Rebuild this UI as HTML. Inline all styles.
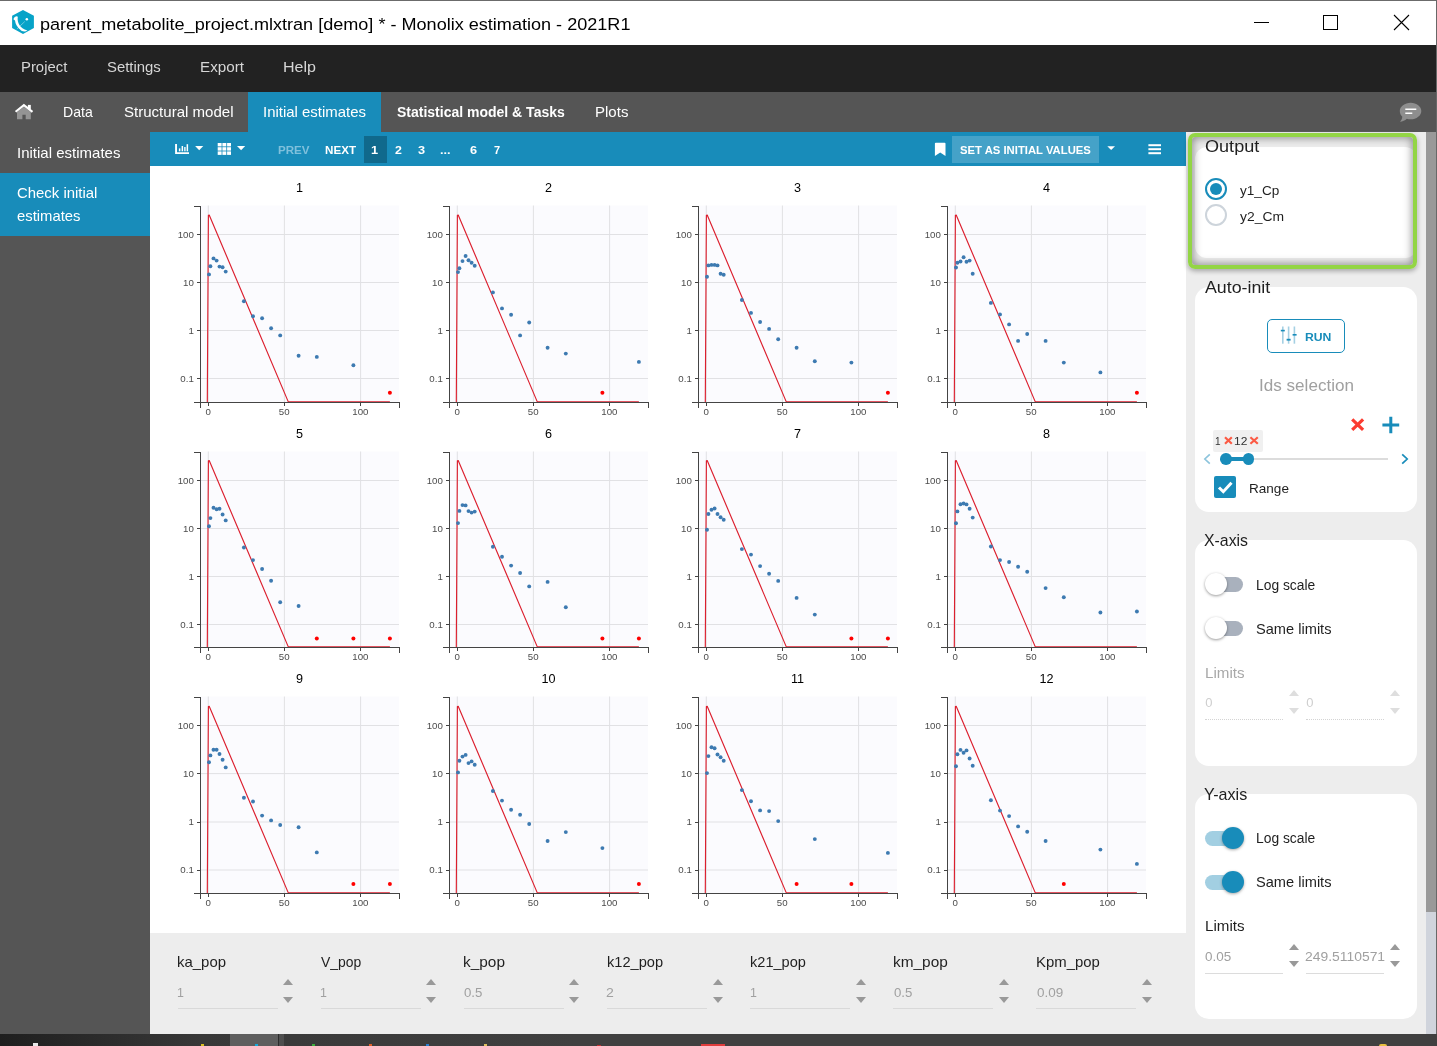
<!DOCTYPE html>
<html lang="en"><head><meta charset="utf-8"><title>Monolix estimation</title>
<style>
html,body{margin:0;padding:0}
body{width:1437px;height:1046px;overflow:hidden;background:#fff;position:relative;font-family:"Liberation Sans",sans-serif}
.a{position:absolute}
.t{position:absolute;white-space:nowrap;line-height:1;transform-origin:0 0}
.card{position:absolute;background:#fff;border-radius:14px}
.tri-u{position:absolute;width:0;height:0;border-left:5.5px solid transparent;border-right:5.5px solid transparent;border-bottom:6px solid #999}
.tri-d{position:absolute;width:0;height:0;border-left:5.5px solid transparent;border-right:5.5px solid transparent;border-top:6px solid #999}
.ul{position:absolute;height:1px;background:#dcdcdc}
</style></head><body>
<!-- window chrome -->
<div class="a" style="left:0;top:0;width:1437px;height:45px;background:#fff"></div>
<div class="a" style="left:0;top:0;width:1437px;height:1px;background:#6b6b6b"></div>
<div class="a" style="left:0;top:45px;width:1437px;height:47px;background:#222"></div>
<div class="a" style="left:0;top:92px;width:1437px;height:40px;background:#555"></div>
<div class="a" style="left:248px;top:92px;width:133px;height:40px;background:#188cba"></div>
<!-- sidebar -->
<div class="a" style="left:0;top:132px;width:150px;height:902px;background:#555"></div>
<div class="a" style="left:0;top:173px;width:150px;height:63px;background:#188cba"></div>
<!-- toolbar -->
<div class="a" style="left:150px;top:132px;width:1036px;height:34px;background:#188cba"></div>
<div class="a" style="left:364px;top:136px;width:23px;height:27px;background:#10698c"></div>
<div class="a" style="left:952px;top:136px;width:147px;height:27px;background:#45a2c8"></div>
<!-- bottom parameter panel -->
<div class="a" style="left:150px;top:933px;width:1036px;height:101px;background:#ededed"></div>
<!-- right panel -->
<div class="a" style="left:1186px;top:132px;width:240px;height:902px;background:#ededed"></div>
<div class="a" style="left:1426px;top:132px;width:11px;height:780px;background:#999"></div>
<div class="a" style="left:1426px;top:912px;width:11px;height:122px;background:#d0d4dc"></div>
<!-- taskbar -->
<div class="a" style="left:0;top:1034px;width:1437px;height:12px;background:linear-gradient(90deg,#1e1e1e 0,#242424 3%,#383838 14%,#404040 40%,#404040 100%)"></div>
<div class="a" style="left:230px;top:1034px;width:48px;height:12px;background:#5e5e5e"></div>
<div class="a" style="left:278px;top:1034px;width:1px;height:12px;background:#2c2c2c"></div>
<div class="a" style="left:279px;top:1034px;width:5px;height:12px;background:#4e4e4e"></div>
<div class="a" style="left:33px;top:1043px;width:5px;height:3px;background:#e8e8e8"></div>
<div class="a" style="left:201px;top:1044px;width:3px;height:2px;background:#d8c020"></div>
<div class="a" style="left:255px;top:1044px;width:3px;height:2px;background:#18a8d8"></div>
<div class="a" style="left:312px;top:1044px;width:3px;height:2px;background:#3cae3c"></div>
<div class="a" style="left:369px;top:1044px;width:3px;height:2px;background:#e0602a"></div>
<div class="a" style="left:426px;top:1044px;width:3px;height:2px;background:#2a7fd0"></div>
<div class="a" style="left:484px;top:1044px;width:3px;height:2px;background:#e0c060"></div>
<div class="a" style="left:597px;top:1045px;width:4px;height:1px;background:#c03030"></div>
<div class="a" style="left:701px;top:1044px;width:24px;height:2px;background:#e03c3c"></div>
<div class="a" style="left:1379px;top:1044px;width:8px;height:2px;background:#e8c040;border-radius:3px 3px 0 0"></div>
<!-- Output (highlighted) -->
<div class="card" style="left:1195px;top:146.5px;width:222px;height:111.5px;border-radius:12px"></div>
<div class="card" style="left:1195px;top:287px;width:222px;height:225px"></div>
<div class="card" style="left:1195px;top:540px;width:222px;height:226px"></div>
<div class="card" style="left:1195px;top:794px;width:222px;height:225px"></div>
<!-- RUN button -->
<div class="a" style="left:1267px;top:319px;width:76px;height:32px;border:1px solid #188cba;border-radius:5px"></div>
<!-- tag -->
<div class="a" style="left:1213px;top:430px;width:50px;height:22px;background:#f0f0f0;border-radius:2px"></div>
<!-- slider -->
<div class="a" style="left:1226px;top:458px;width:162px;height:2px;background:#dcdcdc"></div>
<div class="a" style="left:1226px;top:457.2px;width:23px;height:3.6px;background:#188cba"></div>
<div class="a" style="left:1220.1px;top:453.4px;width:11.6px;height:11.6px;border-radius:50%;background:#188cba"></div>
<div class="a" style="left:1242.7px;top:453.4px;width:11.6px;height:11.6px;border-radius:50%;background:#188cba"></div>
<!-- checkbox -->
<div class="a" style="left:1214px;top:476px;width:22px;height:22px;background:#188cba;border-radius:2px"></div>
<!-- toggles off -->
<div class="a" style="left:1207px;top:577px;width:36px;height:15px;border-radius:8px;background:#a9b1bd"></div>
<div class="a" style="left:1205px;top:573px;width:22px;height:22px;border-radius:50%;background:#fff;box-shadow:0 1px 3px rgba(0,0,0,.4)"></div>
<div class="a" style="left:1207px;top:621px;width:36px;height:15px;border-radius:8px;background:#a9b1bd"></div>
<div class="a" style="left:1205px;top:617px;width:22px;height:22px;border-radius:50%;background:#fff;box-shadow:0 1px 3px rgba(0,0,0,.4)"></div>
<!-- toggles on -->
<div class="a" style="left:1205px;top:831px;width:36px;height:15px;border-radius:8px;background:#a2cfe2"></div>
<div class="a" style="left:1221.5px;top:827px;width:22px;height:22px;border-radius:50%;background:#188cba;box-shadow:0 1px 3px rgba(0,0,0,.35)"></div>
<div class="a" style="left:1205px;top:875px;width:36px;height:15px;border-radius:8px;background:#a2cfe2"></div>
<div class="a" style="left:1221.5px;top:871px;width:22px;height:22px;border-radius:50%;background:#188cba;box-shadow:0 1px 3px rgba(0,0,0,.35)"></div>
<!-- radios -->
<div class="a" style="left:1205px;top:178px;width:18px;height:18px;border:2px solid #188cba;border-radius:50%;background:#fff"></div>
<div class="a" style="left:1209.7px;top:182.7px;width:12.6px;height:12.6px;border-radius:50%;background:#188cba"></div>
<div class="a" style="left:1205px;top:204px;width:18px;height:18px;border:2px solid #cdd4db;border-radius:50%;background:#fff"></div>
<!-- x-axis limits (disabled) -->
<div class="a" style="left:1205px;top:719px;width:78px;height:0;border-top:1px dotted #d4d4d4"></div>
<div class="a" style="left:1306px;top:719px;width:78px;height:0;border-top:1px dotted #d4d4d4"></div>
<div class="tri-u" style="left:1288.8px;top:689.9px;border-bottom-color:#dedede"></div>
<div class="tri-d" style="left:1288.8px;top:708.1px;border-top-color:#dedede"></div>
<div class="tri-u" style="left:1390.1px;top:689.9px;border-bottom-color:#dedede"></div>
<div class="tri-d" style="left:1390.1px;top:708.1px;border-top-color:#dedede"></div>
<!-- y-axis limits -->
<div class="ul" style="left:1205px;top:973px;width:78px"></div>
<div class="ul" style="left:1306px;top:973px;width:78px"></div>
<div class="tri-u" style="left:1288.8px;top:944px"></div>
<div class="tri-d" style="left:1288.8px;top:961.2px"></div>
<div class="tri-u" style="left:1390.1px;top:944px"></div>
<div class="tri-d" style="left:1390.1px;top:961.2px"></div>
<div class="ul" style="left:178.1px;top:1008px;width:100px;background:#d9d9d9"></div>
<div class="tri-u" style="left:283.3px;top:978.8px"></div>
<div class="tri-d" style="left:283.3px;top:997.2px"></div>
<div class="ul" style="left:321.1px;top:1008px;width:100px;background:#d9d9d9"></div>
<div class="tri-u" style="left:426.3px;top:978.8px"></div>
<div class="tri-d" style="left:426.3px;top:997.2px"></div>
<div class="ul" style="left:464.2px;top:1008px;width:100px;background:#d9d9d9"></div>
<div class="tri-u" style="left:569.4px;top:978.8px"></div>
<div class="tri-d" style="left:569.4px;top:997.2px"></div>
<div class="ul" style="left:607.2px;top:1008px;width:100px;background:#d9d9d9"></div>
<div class="tri-u" style="left:712.5px;top:978.8px"></div>
<div class="tri-d" style="left:712.5px;top:997.2px"></div>
<div class="ul" style="left:750.3px;top:1008px;width:100px;background:#d9d9d9"></div>
<div class="tri-u" style="left:855.5px;top:978.8px"></div>
<div class="tri-d" style="left:855.5px;top:997.2px"></div>
<div class="ul" style="left:893.4px;top:1008px;width:100px;background:#d9d9d9"></div>
<div class="tri-u" style="left:998.6px;top:978.8px"></div>
<div class="tri-d" style="left:998.6px;top:997.2px"></div>
<div class="ul" style="left:1036.4px;top:1008px;width:100px;background:#d9d9d9"></div>
<div class="tri-u" style="left:1141.6px;top:978.8px"></div>
<div class="tri-d" style="left:1141.6px;top:997.2px"></div>
<div class="a" style="left:1188px;top:133px;width:221px;height:128px;border:4px solid #93d545;border-radius:7px;box-shadow:0 2px 5px rgba(0,0,0,.32), 0 0 2px rgba(255,255,255,.9), inset 0 0 8px 1px rgba(0,0,0,.42)"></div>

<svg class="a" style="left:0;top:0" width="1437" height="1046" viewBox="0 0 1437 1046">
<!-- app logo -->
<path d="M23 9.9L33.9 15.7V28L23 34L12.1 28V15.7Z" fill="#07a3c8"/>
<path d="M13.4 19.2C14.2 16.6 16.9 15.4 17.8 16.8C16.9 22.6 19.8 28.4 27.4 30.5C25.6 31.9 23.4 31.7 21.4 30.7C17.3 28 15.4 24 15 20.6Z" fill="#fff"/>
<circle cx="26.8" cy="19.3" r="1.25" fill="#fff"/>
<path d="M16.9 29L24.9 21.4" stroke="#fff" stroke-width=".6" stroke-dasharray="1 .5"/>
<!-- window controls -->
<g stroke="#000" stroke-width="1" fill="none">
<path d="M1254 22.5H1269" shape-rendering="crispEdges"/>
<rect x="1323.5" y="15.5" width="14" height="14" shape-rendering="crispEdges"/>
<path d="M1394 15L1409 30M1409 15L1394 30" stroke-width="1.1"/>
</g>
<!-- home -->
<g transform="translate(0 .5)"><path d="M17 111.5L23.9 106.2L30.8 111.5V118.8H25.7V114.3H22.4V118.8H17Z" fill="#949494"/>
<path d="M15.6 111.3L23.9 104.6L32.5 111.3" stroke="#fff" stroke-width="2.1" fill="none" stroke-linejoin="miter"/>
<rect x="27.9" y="104.4" width="2.9" height="4.4" fill="#fff"/></g>
<!-- chat -->
<path d="M1410.7 102.7C1416.6 102.7 1421.3 106.4 1421.3 111C1421.3 115.6 1416.6 119.3 1410.7 119.3C1409.3 119.3 1408 119.1 1406.8 118.7C1405 120.4 1402.6 121.4 1400 121.7C1401.4 120.4 1402.2 118.6 1402.3 116.8C1400.7 115.3 1399.8 113.2 1399.8 111C1399.8 106.4 1404.8 102.7 1410.7 102.7Z" fill="#8e8e8e"/>
<path d="M1405.3 109.3H1416.3M1405.3 113.3H1412.3" stroke="#fff" stroke-width="1.4"/>
<!-- toolbar: chart icon -->
<g fill="#fff">
<path d="M175.1 144H177V152.2H189V154.1H175.1Z"/>
<rect x="178.9" y="148.4" width="1.5" height="2.9"/><rect x="181.6" y="146" width="1.5" height="5.3"/><rect x="184.2" y="147" width="1.4" height="4.3"/><rect x="186.6" y="144.2" width="1.5" height="7.1"/>
<path d="M195.1 145.9H203.3L199.2 150.2Z"/>
<!-- grid icon -->
<g>
<rect x="217.7" y="143" width="3.9" height="3.4"/><rect x="222.4" y="143" width="3.9" height="3.4"/><rect x="227.1" y="143" width="3.9" height="3.4"/>
<rect x="217.7" y="147.2" width="3.9" height="3.4"/><rect x="222.4" y="147.2" width="3.9" height="3.4"/><rect x="227.1" y="147.2" width="3.9" height="3.4"/>
<rect x="217.7" y="151.4" width="3.9" height="3.5"/><rect x="222.4" y="151.4" width="3.9" height="3.5"/><rect x="227.1" y="151.4" width="3.9" height="3.5"/>
</g>
<path d="M237 145.9H245.2L241.1 150.2Z"/>
<!-- bookmark -->
<path d="M934.9 143.6Q934.9 142.7 935.8 142.7H944.6Q945.5 142.7 945.5 143.6V155.9L940.2 152.6L934.9 155.9Z"/>
<path d="M1107.3 146.3H1115L1111.15 150.1Z"/>
<rect x="1148.4" y="144.2" width="12.6" height="2"/><rect x="1148.4" y="148.2" width="12.6" height="2"/><rect x="1148.4" y="152.2" width="12.6" height="2"/>
</g>
<!-- RUN sliders icon -->
<g>
<rect x="1282" y="326.5" width="1.6" height="17.2" fill="#a5d0e3"/><rect x="1287.8" y="326.5" width="1.6" height="17.2" fill="#a5d0e3"/><rect x="1293.6" y="326.5" width="1.6" height="17.2" fill="#a5d0e3"/>
<rect x="1280.8" y="329.8" width="4" height="1.6" fill="#188cba"/><rect x="1286.6" y="338.8" width="4" height="1.8" fill="#188cba"/><rect x="1292.6" y="334" width="4" height="1.6" fill="#188cba"/>
</g>
<!-- big red x, blue plus -->
<path d="M1352.2 419.3L1363.1 429.9M1363.1 419.3L1352.2 429.9" stroke="#fb3c30" stroke-width="3.2" fill="none"/>
<path d="M1382.4 425H1399.2M1390.8 416.8V433.2" stroke="#188cba" stroke-width="3" fill="none"/>
<!-- tag x's -->
<path d="M1225 437.2L1231.8 443.8M1231.8 437.2L1225 443.8" stroke="#fb5a44" stroke-width="2.2" fill="none"/>
<path d="M1250.4 437.2L1257.8 443.8M1257.8 437.2L1250.4 443.8" stroke="#fb5a44" stroke-width="2.2" fill="none"/>
<!-- chevrons -->
<path d="M1209.8 454.3L1204.8 459L1209.8 463.7" stroke="#8cc4dc" stroke-width="1.6" fill="none"/>
<path d="M1402.2 454.3L1407.2 459L1402.2 463.7" stroke="#188cba" stroke-width="1.7" fill="none"/>
<!-- check -->
<path d="M1219 487.5L1223.3 491.7L1231.5 482.8" stroke="#fff" stroke-width="3" fill="none"/>
</svg>

<svg class="plots" width="1036" height="767" viewBox="150 166 1036 767" style="position:absolute;left:150px;top:166px" font-family="Liberation Sans, sans-serif">
<g><rect x="201" y="205.5" width="198" height="196.5" fill="#fbfbfe"/><path d="M201 234.5H399" stroke="#e1e1e4" stroke-width="1"/><path d="M201 282.5H399" stroke="#e1e1e4" stroke-width="1"/><path d="M201 330.5H399" stroke="#e1e1e4" stroke-width="1"/><path d="M201 378.5H399" stroke="#e1e1e4" stroke-width="1"/><path d="M208.3 205.5V402" stroke="#e1e1e4" stroke-width="1"/><path d="M284.4 205.5V402" stroke="#e1e1e4" stroke-width="1"/><path d="M360.6 205.5V402" stroke="#e1e1e4" stroke-width="1"/><path d="M207.3 402L208.4 215.2L209.2 215L288.3 401.85H389.9" fill="none" stroke="#dc1f2e" stroke-width="1.15" stroke-linejoin="round"/><circle cx="209.0" cy="274.4" r="1.95" fill="#3d7ab1"/><circle cx="210.4" cy="266.3" r="1.95" fill="#3d7ab1"/><circle cx="213.5" cy="258.4" r="1.95" fill="#3d7ab1"/><circle cx="216.6" cy="260.6" r="1.95" fill="#3d7ab1"/><circle cx="219.5" cy="266.6" r="1.95" fill="#3d7ab1"/><circle cx="222.6" cy="267.3" r="1.95" fill="#3d7ab1"/><circle cx="225.7" cy="271.6" r="1.95" fill="#3d7ab1"/><circle cx="243.9" cy="301.2" r="1.95" fill="#3d7ab1"/><circle cx="253.0" cy="316.3" r="1.95" fill="#3d7ab1"/><circle cx="262.1" cy="318.2" r="1.95" fill="#3d7ab1"/><circle cx="271.1" cy="328.2" r="1.95" fill="#3d7ab1"/><circle cx="280.2" cy="335.4" r="1.95" fill="#3d7ab1"/><circle cx="298.6" cy="355.7" r="1.95" fill="#3d7ab1"/><circle cx="316.8" cy="356.9" r="1.95" fill="#3d7ab1"/><circle cx="353.4" cy="365.3" r="1.95" fill="#3d7ab1"/><circle cx="389.9" cy="392.8" r="2" fill="#f00"/><g shape-rendering="crispEdges" stroke="#444" stroke-width="1" fill="none"><path d="M194 206.5H200.5V408"/><path d="M194 402.5H399.5V408"/><path d="M197 234.5H200"/><path d="M197 282.5H200"/><path d="M197 330.5H200"/><path d="M197 378.5H200"/><path d="M208.5 403V406"/><path d="M284.5 403V406"/><path d="M360.5 403V406"/></g><text x="193.8" y="237.8" font-size="9.7" fill="#4d4d4d" text-anchor="end">100</text><text x="193.8" y="285.8" font-size="9.7" fill="#4d4d4d" text-anchor="end">10</text><text x="193.8" y="333.8" font-size="9.7" fill="#4d4d4d" text-anchor="end">1</text><text x="193.8" y="381.8" font-size="9.7" fill="#4d4d4d" text-anchor="end">0.1</text><text x="208.2" y="415" font-size="9.7" fill="#4d4d4d" text-anchor="middle">0</text><text x="284.2" y="415" font-size="9.7" fill="#4d4d4d" text-anchor="middle">50</text><text x="360.4" y="415" font-size="9.7" fill="#4d4d4d" text-anchor="middle">100</text><text x="299.5" y="192" font-size="12.6" fill="#000" text-anchor="middle">1</text></g>
<g><rect x="450" y="205.5" width="198" height="196.5" fill="#fbfbfe"/><path d="M450 234.5H648" stroke="#e1e1e4" stroke-width="1"/><path d="M450 282.5H648" stroke="#e1e1e4" stroke-width="1"/><path d="M450 330.5H648" stroke="#e1e1e4" stroke-width="1"/><path d="M450 378.5H648" stroke="#e1e1e4" stroke-width="1"/><path d="M457.3 205.5V402" stroke="#e1e1e4" stroke-width="1"/><path d="M533.4 205.5V402" stroke="#e1e1e4" stroke-width="1"/><path d="M609.6 205.5V402" stroke="#e1e1e4" stroke-width="1"/><path d="M456.3 402L457.4 215.2L458.2 215L537.3 401.85H638.9" fill="none" stroke="#dc1f2e" stroke-width="1.15" stroke-linejoin="round"/><circle cx="458.0" cy="272.1" r="1.95" fill="#3d7ab1"/><circle cx="459.4" cy="268.2" r="1.95" fill="#3d7ab1"/><circle cx="462.5" cy="261.1" r="1.95" fill="#3d7ab1"/><circle cx="465.6" cy="256.0" r="1.95" fill="#3d7ab1"/><circle cx="468.5" cy="260.3" r="1.95" fill="#3d7ab1"/><circle cx="471.6" cy="262.7" r="1.95" fill="#3d7ab1"/><circle cx="474.7" cy="265.8" r="1.95" fill="#3d7ab1"/><circle cx="492.9" cy="292.4" r="1.95" fill="#3d7ab1"/><circle cx="502.0" cy="308.4" r="1.95" fill="#3d7ab1"/><circle cx="511.1" cy="314.8" r="1.95" fill="#3d7ab1"/><circle cx="520.1" cy="335.4" r="1.95" fill="#3d7ab1"/><circle cx="529.2" cy="322.5" r="1.95" fill="#3d7ab1"/><circle cx="547.6" cy="347.8" r="1.95" fill="#3d7ab1"/><circle cx="565.8" cy="353.6" r="1.95" fill="#3d7ab1"/><circle cx="602.4" cy="392.8" r="2" fill="#f00"/><circle cx="638.9" cy="361.9" r="1.95" fill="#3d7ab1"/><g shape-rendering="crispEdges" stroke="#444" stroke-width="1" fill="none"><path d="M443 206.5H449.5V408"/><path d="M443 402.5H648.5V408"/><path d="M446 234.5H449"/><path d="M446 282.5H449"/><path d="M446 330.5H449"/><path d="M446 378.5H449"/><path d="M457.5 403V406"/><path d="M533.5 403V406"/><path d="M609.5 403V406"/></g><text x="442.8" y="237.8" font-size="9.7" fill="#4d4d4d" text-anchor="end">100</text><text x="442.8" y="285.8" font-size="9.7" fill="#4d4d4d" text-anchor="end">10</text><text x="442.8" y="333.8" font-size="9.7" fill="#4d4d4d" text-anchor="end">1</text><text x="442.8" y="381.8" font-size="9.7" fill="#4d4d4d" text-anchor="end">0.1</text><text x="457.2" y="415" font-size="9.7" fill="#4d4d4d" text-anchor="middle">0</text><text x="533.2" y="415" font-size="9.7" fill="#4d4d4d" text-anchor="middle">50</text><text x="609.4" y="415" font-size="9.7" fill="#4d4d4d" text-anchor="middle">100</text><text x="548.5" y="192" font-size="12.6" fill="#000" text-anchor="middle">2</text></g>
<g><rect x="699" y="205.5" width="198" height="196.5" fill="#fbfbfe"/><path d="M699 234.5H897" stroke="#e1e1e4" stroke-width="1"/><path d="M699 282.5H897" stroke="#e1e1e4" stroke-width="1"/><path d="M699 330.5H897" stroke="#e1e1e4" stroke-width="1"/><path d="M699 378.5H897" stroke="#e1e1e4" stroke-width="1"/><path d="M706.3 205.5V402" stroke="#e1e1e4" stroke-width="1"/><path d="M782.4 205.5V402" stroke="#e1e1e4" stroke-width="1"/><path d="M858.6 205.5V402" stroke="#e1e1e4" stroke-width="1"/><path d="M705.3 402L706.4 215.2L707.2 215L786.3 401.85H887.9" fill="none" stroke="#dc1f2e" stroke-width="1.15" stroke-linejoin="round"/><circle cx="707.0" cy="276.8" r="1.95" fill="#3d7ab1"/><circle cx="708.4" cy="265.4" r="1.95" fill="#3d7ab1"/><circle cx="711.5" cy="264.9" r="1.95" fill="#3d7ab1"/><circle cx="714.6" cy="264.9" r="1.95" fill="#3d7ab1"/><circle cx="717.5" cy="265.4" r="1.95" fill="#3d7ab1"/><circle cx="720.6" cy="273.7" r="1.95" fill="#3d7ab1"/><circle cx="723.7" cy="274.7" r="1.95" fill="#3d7ab1"/><circle cx="741.9" cy="300.0" r="1.95" fill="#3d7ab1"/><circle cx="751.0" cy="312.9" r="1.95" fill="#3d7ab1"/><circle cx="760.1" cy="322.0" r="1.95" fill="#3d7ab1"/><circle cx="769.1" cy="328.9" r="1.95" fill="#3d7ab1"/><circle cx="778.2" cy="339.2" r="1.95" fill="#3d7ab1"/><circle cx="796.6" cy="347.8" r="1.95" fill="#3d7ab1"/><circle cx="814.8" cy="361.2" r="1.95" fill="#3d7ab1"/><circle cx="851.4" cy="362.6" r="1.95" fill="#3d7ab1"/><circle cx="887.9" cy="392.8" r="2" fill="#f00"/><g shape-rendering="crispEdges" stroke="#444" stroke-width="1" fill="none"><path d="M692 206.5H698.5V408"/><path d="M692 402.5H897.5V408"/><path d="M695 234.5H698"/><path d="M695 282.5H698"/><path d="M695 330.5H698"/><path d="M695 378.5H698"/><path d="M706.5 403V406"/><path d="M782.5 403V406"/><path d="M858.5 403V406"/></g><text x="691.8" y="237.8" font-size="9.7" fill="#4d4d4d" text-anchor="end">100</text><text x="691.8" y="285.8" font-size="9.7" fill="#4d4d4d" text-anchor="end">10</text><text x="691.8" y="333.8" font-size="9.7" fill="#4d4d4d" text-anchor="end">1</text><text x="691.8" y="381.8" font-size="9.7" fill="#4d4d4d" text-anchor="end">0.1</text><text x="706.2" y="415" font-size="9.7" fill="#4d4d4d" text-anchor="middle">0</text><text x="782.2" y="415" font-size="9.7" fill="#4d4d4d" text-anchor="middle">50</text><text x="858.4" y="415" font-size="9.7" fill="#4d4d4d" text-anchor="middle">100</text><text x="797.5" y="192" font-size="12.6" fill="#000" text-anchor="middle">3</text></g>
<g><rect x="948" y="205.5" width="198" height="196.5" fill="#fbfbfe"/><path d="M948 234.5H1146" stroke="#e1e1e4" stroke-width="1"/><path d="M948 282.5H1146" stroke="#e1e1e4" stroke-width="1"/><path d="M948 330.5H1146" stroke="#e1e1e4" stroke-width="1"/><path d="M948 378.5H1146" stroke="#e1e1e4" stroke-width="1"/><path d="M955.3 205.5V402" stroke="#e1e1e4" stroke-width="1"/><path d="M1031.4 205.5V402" stroke="#e1e1e4" stroke-width="1"/><path d="M1107.6 205.5V402" stroke="#e1e1e4" stroke-width="1"/><path d="M954.3 402L955.4 215.2L956.2 215L1035.3 401.85H1136.9" fill="none" stroke="#dc1f2e" stroke-width="1.15" stroke-linejoin="round"/><circle cx="956.0" cy="267.5" r="1.95" fill="#3d7ab1"/><circle cx="957.4" cy="262.7" r="1.95" fill="#3d7ab1"/><circle cx="960.5" cy="261.5" r="1.95" fill="#3d7ab1"/><circle cx="963.6" cy="257.2" r="1.95" fill="#3d7ab1"/><circle cx="966.5" cy="261.8" r="1.95" fill="#3d7ab1"/><circle cx="969.6" cy="260.6" r="1.95" fill="#3d7ab1"/><circle cx="972.7" cy="273.7" r="1.95" fill="#3d7ab1"/><circle cx="990.9" cy="302.9" r="1.95" fill="#3d7ab1"/><circle cx="1000.0" cy="314.4" r="1.95" fill="#3d7ab1"/><circle cx="1009.1" cy="324.4" r="1.95" fill="#3d7ab1"/><circle cx="1018.1" cy="340.9" r="1.95" fill="#3d7ab1"/><circle cx="1027.2" cy="334.0" r="1.95" fill="#3d7ab1"/><circle cx="1045.6" cy="340.9" r="1.95" fill="#3d7ab1"/><circle cx="1063.8" cy="362.6" r="1.95" fill="#3d7ab1"/><circle cx="1100.4" cy="372.4" r="1.95" fill="#3d7ab1"/><circle cx="1136.9" cy="392.8" r="2" fill="#f00"/><g shape-rendering="crispEdges" stroke="#444" stroke-width="1" fill="none"><path d="M941 206.5H947.5V408"/><path d="M941 402.5H1146.5V408"/><path d="M944 234.5H947"/><path d="M944 282.5H947"/><path d="M944 330.5H947"/><path d="M944 378.5H947"/><path d="M955.5 403V406"/><path d="M1031.5 403V406"/><path d="M1107.5 403V406"/></g><text x="940.8" y="237.8" font-size="9.7" fill="#4d4d4d" text-anchor="end">100</text><text x="940.8" y="285.8" font-size="9.7" fill="#4d4d4d" text-anchor="end">10</text><text x="940.8" y="333.8" font-size="9.7" fill="#4d4d4d" text-anchor="end">1</text><text x="940.8" y="381.8" font-size="9.7" fill="#4d4d4d" text-anchor="end">0.1</text><text x="955.2" y="415" font-size="9.7" fill="#4d4d4d" text-anchor="middle">0</text><text x="1031.2" y="415" font-size="9.7" fill="#4d4d4d" text-anchor="middle">50</text><text x="1107.4" y="415" font-size="9.7" fill="#4d4d4d" text-anchor="middle">100</text><text x="1046.5" y="192" font-size="12.6" fill="#000" text-anchor="middle">4</text></g>
<g><rect x="201" y="451.5" width="198" height="195.5" fill="#fbfbfe"/><path d="M201 480.5H399" stroke="#e1e1e4" stroke-width="1"/><path d="M201 528.5H399" stroke="#e1e1e4" stroke-width="1"/><path d="M201 576.5H399" stroke="#e1e1e4" stroke-width="1"/><path d="M201 624.5H399" stroke="#e1e1e4" stroke-width="1"/><path d="M208.3 451.5V647" stroke="#e1e1e4" stroke-width="1"/><path d="M284.4 451.5V647" stroke="#e1e1e4" stroke-width="1"/><path d="M360.6 451.5V647" stroke="#e1e1e4" stroke-width="1"/><path d="M207.3 647L208.4 460.7L209.2 460.5L288.3 646.85H389.9" fill="none" stroke="#dc1f2e" stroke-width="1.15" stroke-linejoin="round"/><circle cx="209.0" cy="526.2" r="1.95" fill="#3d7ab1"/><circle cx="210.4" cy="518.1" r="1.95" fill="#3d7ab1"/><circle cx="213.5" cy="507.8" r="1.95" fill="#3d7ab1"/><circle cx="216.6" cy="509.2" r="1.95" fill="#3d7ab1"/><circle cx="219.5" cy="508.7" r="1.95" fill="#3d7ab1"/><circle cx="222.6" cy="514.5" r="1.95" fill="#3d7ab1"/><circle cx="225.7" cy="520.4" r="1.95" fill="#3d7ab1"/><circle cx="243.9" cy="547.5" r="1.95" fill="#3d7ab1"/><circle cx="253.0" cy="560.1" r="1.95" fill="#3d7ab1"/><circle cx="262.1" cy="569.0" r="1.95" fill="#3d7ab1"/><circle cx="271.1" cy="580.7" r="1.95" fill="#3d7ab1"/><circle cx="280.2" cy="602.2" r="1.95" fill="#3d7ab1"/><circle cx="298.6" cy="606.0" r="1.95" fill="#3d7ab1"/><circle cx="316.8" cy="638.4" r="2" fill="#f00"/><circle cx="353.4" cy="638.4" r="2" fill="#f00"/><circle cx="389.9" cy="638.4" r="2" fill="#f00"/><g shape-rendering="crispEdges" stroke="#444" stroke-width="1" fill="none"><path d="M194 452.5H200.5V653"/><path d="M194 647.5H399.5V653"/><path d="M197 480.5H200"/><path d="M197 528.5H200"/><path d="M197 576.5H200"/><path d="M197 624.5H200"/><path d="M208.5 648V651"/><path d="M284.5 648V651"/><path d="M360.5 648V651"/></g><text x="193.8" y="483.8" font-size="9.7" fill="#4d4d4d" text-anchor="end">100</text><text x="193.8" y="531.8" font-size="9.7" fill="#4d4d4d" text-anchor="end">10</text><text x="193.8" y="579.8" font-size="9.7" fill="#4d4d4d" text-anchor="end">1</text><text x="193.8" y="627.8" font-size="9.7" fill="#4d4d4d" text-anchor="end">0.1</text><text x="208.2" y="660" font-size="9.7" fill="#4d4d4d" text-anchor="middle">0</text><text x="284.2" y="660" font-size="9.7" fill="#4d4d4d" text-anchor="middle">50</text><text x="360.4" y="660" font-size="9.7" fill="#4d4d4d" text-anchor="middle">100</text><text x="299.5" y="438" font-size="12.6" fill="#000" text-anchor="middle">5</text></g>
<g><rect x="450" y="451.5" width="198" height="195.5" fill="#fbfbfe"/><path d="M450 480.5H648" stroke="#e1e1e4" stroke-width="1"/><path d="M450 528.5H648" stroke="#e1e1e4" stroke-width="1"/><path d="M450 576.5H648" stroke="#e1e1e4" stroke-width="1"/><path d="M450 624.5H648" stroke="#e1e1e4" stroke-width="1"/><path d="M457.3 451.5V647" stroke="#e1e1e4" stroke-width="1"/><path d="M533.4 451.5V647" stroke="#e1e1e4" stroke-width="1"/><path d="M609.6 451.5V647" stroke="#e1e1e4" stroke-width="1"/><path d="M456.3 647L457.4 460.7L458.2 460.5L537.3 646.85H638.9" fill="none" stroke="#dc1f2e" stroke-width="1.15" stroke-linejoin="round"/><circle cx="458.0" cy="523.1" r="1.95" fill="#3d7ab1"/><circle cx="459.4" cy="510.9" r="1.95" fill="#3d7ab1"/><circle cx="462.5" cy="505.1" r="1.95" fill="#3d7ab1"/><circle cx="465.6" cy="505.4" r="1.95" fill="#3d7ab1"/><circle cx="468.5" cy="511.1" r="1.95" fill="#3d7ab1"/><circle cx="471.6" cy="512.6" r="1.95" fill="#3d7ab1"/><circle cx="474.7" cy="511.6" r="1.95" fill="#3d7ab1"/><circle cx="492.9" cy="546.7" r="1.95" fill="#3d7ab1"/><circle cx="502.0" cy="556.8" r="1.95" fill="#3d7ab1"/><circle cx="511.1" cy="565.6" r="1.95" fill="#3d7ab1"/><circle cx="520.1" cy="573.0" r="1.95" fill="#3d7ab1"/><circle cx="529.2" cy="586.4" r="1.95" fill="#3d7ab1"/><circle cx="547.6" cy="581.9" r="1.95" fill="#3d7ab1"/><circle cx="565.8" cy="607.2" r="1.95" fill="#3d7ab1"/><circle cx="602.4" cy="638.4" r="2" fill="#f00"/><circle cx="638.9" cy="638.4" r="2" fill="#f00"/><g shape-rendering="crispEdges" stroke="#444" stroke-width="1" fill="none"><path d="M443 452.5H449.5V653"/><path d="M443 647.5H648.5V653"/><path d="M446 480.5H449"/><path d="M446 528.5H449"/><path d="M446 576.5H449"/><path d="M446 624.5H449"/><path d="M457.5 648V651"/><path d="M533.5 648V651"/><path d="M609.5 648V651"/></g><text x="442.8" y="483.8" font-size="9.7" fill="#4d4d4d" text-anchor="end">100</text><text x="442.8" y="531.8" font-size="9.7" fill="#4d4d4d" text-anchor="end">10</text><text x="442.8" y="579.8" font-size="9.7" fill="#4d4d4d" text-anchor="end">1</text><text x="442.8" y="627.8" font-size="9.7" fill="#4d4d4d" text-anchor="end">0.1</text><text x="457.2" y="660" font-size="9.7" fill="#4d4d4d" text-anchor="middle">0</text><text x="533.2" y="660" font-size="9.7" fill="#4d4d4d" text-anchor="middle">50</text><text x="609.4" y="660" font-size="9.7" fill="#4d4d4d" text-anchor="middle">100</text><text x="548.5" y="438" font-size="12.6" fill="#000" text-anchor="middle">6</text></g>
<g><rect x="699" y="451.5" width="198" height="195.5" fill="#fbfbfe"/><path d="M699 480.5H897" stroke="#e1e1e4" stroke-width="1"/><path d="M699 528.5H897" stroke="#e1e1e4" stroke-width="1"/><path d="M699 576.5H897" stroke="#e1e1e4" stroke-width="1"/><path d="M699 624.5H897" stroke="#e1e1e4" stroke-width="1"/><path d="M706.3 451.5V647" stroke="#e1e1e4" stroke-width="1"/><path d="M782.4 451.5V647" stroke="#e1e1e4" stroke-width="1"/><path d="M858.6 451.5V647" stroke="#e1e1e4" stroke-width="1"/><path d="M705.3 647L706.4 460.7L707.2 460.5L786.3 646.85H887.9" fill="none" stroke="#dc1f2e" stroke-width="1.15" stroke-linejoin="round"/><circle cx="707.0" cy="529.8" r="1.95" fill="#3d7ab1"/><circle cx="708.4" cy="514.0" r="1.95" fill="#3d7ab1"/><circle cx="711.5" cy="509.7" r="1.95" fill="#3d7ab1"/><circle cx="714.6" cy="508.5" r="1.95" fill="#3d7ab1"/><circle cx="717.5" cy="514.0" r="1.95" fill="#3d7ab1"/><circle cx="720.6" cy="517.3" r="1.95" fill="#3d7ab1"/><circle cx="723.7" cy="519.7" r="1.95" fill="#3d7ab1"/><circle cx="741.9" cy="549.1" r="1.95" fill="#3d7ab1"/><circle cx="751.0" cy="554.6" r="1.95" fill="#3d7ab1"/><circle cx="760.1" cy="566.1" r="1.95" fill="#3d7ab1"/><circle cx="769.1" cy="573.7" r="1.95" fill="#3d7ab1"/><circle cx="778.2" cy="580.9" r="1.95" fill="#3d7ab1"/><circle cx="796.6" cy="597.9" r="1.95" fill="#3d7ab1"/><circle cx="814.8" cy="614.6" r="1.95" fill="#3d7ab1"/><circle cx="851.4" cy="638.4" r="2" fill="#f00"/><circle cx="887.9" cy="638.4" r="2" fill="#f00"/><g shape-rendering="crispEdges" stroke="#444" stroke-width="1" fill="none"><path d="M692 452.5H698.5V653"/><path d="M692 647.5H897.5V653"/><path d="M695 480.5H698"/><path d="M695 528.5H698"/><path d="M695 576.5H698"/><path d="M695 624.5H698"/><path d="M706.5 648V651"/><path d="M782.5 648V651"/><path d="M858.5 648V651"/></g><text x="691.8" y="483.8" font-size="9.7" fill="#4d4d4d" text-anchor="end">100</text><text x="691.8" y="531.8" font-size="9.7" fill="#4d4d4d" text-anchor="end">10</text><text x="691.8" y="579.8" font-size="9.7" fill="#4d4d4d" text-anchor="end">1</text><text x="691.8" y="627.8" font-size="9.7" fill="#4d4d4d" text-anchor="end">0.1</text><text x="706.2" y="660" font-size="9.7" fill="#4d4d4d" text-anchor="middle">0</text><text x="782.2" y="660" font-size="9.7" fill="#4d4d4d" text-anchor="middle">50</text><text x="858.4" y="660" font-size="9.7" fill="#4d4d4d" text-anchor="middle">100</text><text x="797.5" y="438" font-size="12.6" fill="#000" text-anchor="middle">7</text></g>
<g><rect x="948" y="451.5" width="198" height="195.5" fill="#fbfbfe"/><path d="M948 480.5H1146" stroke="#e1e1e4" stroke-width="1"/><path d="M948 528.5H1146" stroke="#e1e1e4" stroke-width="1"/><path d="M948 576.5H1146" stroke="#e1e1e4" stroke-width="1"/><path d="M948 624.5H1146" stroke="#e1e1e4" stroke-width="1"/><path d="M955.3 451.5V647" stroke="#e1e1e4" stroke-width="1"/><path d="M1031.4 451.5V647" stroke="#e1e1e4" stroke-width="1"/><path d="M1107.6 451.5V647" stroke="#e1e1e4" stroke-width="1"/><path d="M954.3 647L955.4 460.7L956.2 460.5L1035.3 646.85H1136.9" fill="none" stroke="#dc1f2e" stroke-width="1.15" stroke-linejoin="round"/><circle cx="956.0" cy="523.3" r="1.95" fill="#3d7ab1"/><circle cx="957.4" cy="511.4" r="1.95" fill="#3d7ab1"/><circle cx="960.5" cy="504.2" r="1.95" fill="#3d7ab1"/><circle cx="963.6" cy="503.5" r="1.95" fill="#3d7ab1"/><circle cx="966.5" cy="504.4" r="1.95" fill="#3d7ab1"/><circle cx="969.6" cy="508.7" r="1.95" fill="#3d7ab1"/><circle cx="972.7" cy="517.6" r="1.95" fill="#3d7ab1"/><circle cx="990.9" cy="546.5" r="1.95" fill="#3d7ab1"/><circle cx="1000.0" cy="560.1" r="1.95" fill="#3d7ab1"/><circle cx="1009.1" cy="562.0" r="1.95" fill="#3d7ab1"/><circle cx="1018.1" cy="566.8" r="1.95" fill="#3d7ab1"/><circle cx="1027.2" cy="571.8" r="1.95" fill="#3d7ab1"/><circle cx="1045.6" cy="588.1" r="1.95" fill="#3d7ab1"/><circle cx="1063.8" cy="597.2" r="1.95" fill="#3d7ab1"/><circle cx="1100.4" cy="612.5" r="1.95" fill="#3d7ab1"/><circle cx="1136.9" cy="611.5" r="1.95" fill="#3d7ab1"/><g shape-rendering="crispEdges" stroke="#444" stroke-width="1" fill="none"><path d="M941 452.5H947.5V653"/><path d="M941 647.5H1146.5V653"/><path d="M944 480.5H947"/><path d="M944 528.5H947"/><path d="M944 576.5H947"/><path d="M944 624.5H947"/><path d="M955.5 648V651"/><path d="M1031.5 648V651"/><path d="M1107.5 648V651"/></g><text x="940.8" y="483.8" font-size="9.7" fill="#4d4d4d" text-anchor="end">100</text><text x="940.8" y="531.8" font-size="9.7" fill="#4d4d4d" text-anchor="end">10</text><text x="940.8" y="579.8" font-size="9.7" fill="#4d4d4d" text-anchor="end">1</text><text x="940.8" y="627.8" font-size="9.7" fill="#4d4d4d" text-anchor="end">0.1</text><text x="955.2" y="660" font-size="9.7" fill="#4d4d4d" text-anchor="middle">0</text><text x="1031.2" y="660" font-size="9.7" fill="#4d4d4d" text-anchor="middle">50</text><text x="1107.4" y="660" font-size="9.7" fill="#4d4d4d" text-anchor="middle">100</text><text x="1046.5" y="438" font-size="12.6" fill="#000" text-anchor="middle">8</text></g>
<g><rect x="201" y="696.5" width="198" height="196.5" fill="#fbfbfe"/><path d="M201 725.5H399" stroke="#e1e1e4" stroke-width="1"/><path d="M201 773.6H399" stroke="#e1e1e4" stroke-width="1"/><path d="M201 822H399" stroke="#e1e1e4" stroke-width="1"/><path d="M201 870H399" stroke="#e1e1e4" stroke-width="1"/><path d="M208.3 696.5V893" stroke="#e1e1e4" stroke-width="1"/><path d="M284.4 696.5V893" stroke="#e1e1e4" stroke-width="1"/><path d="M360.6 696.5V893" stroke="#e1e1e4" stroke-width="1"/><path d="M207.3 893L208.4 706.5L209.2 706.3L288.3 892.85H389.9" fill="none" stroke="#dc1f2e" stroke-width="1.15" stroke-linejoin="round"/><circle cx="209.0" cy="762.3" r="1.95" fill="#3d7ab1"/><circle cx="210.4" cy="755.4" r="1.95" fill="#3d7ab1"/><circle cx="213.5" cy="749.7" r="1.95" fill="#3d7ab1"/><circle cx="216.6" cy="749.7" r="1.95" fill="#3d7ab1"/><circle cx="219.5" cy="754.0" r="1.95" fill="#3d7ab1"/><circle cx="222.6" cy="759.7" r="1.95" fill="#3d7ab1"/><circle cx="225.7" cy="767.4" r="1.95" fill="#3d7ab1"/><circle cx="243.9" cy="797.7" r="1.95" fill="#3d7ab1"/><circle cx="253.0" cy="801.5" r="1.95" fill="#3d7ab1"/><circle cx="262.1" cy="815.6" r="1.95" fill="#3d7ab1"/><circle cx="271.1" cy="820.4" r="1.95" fill="#3d7ab1"/><circle cx="280.2" cy="825.0" r="1.95" fill="#3d7ab1"/><circle cx="298.6" cy="827.3" r="1.95" fill="#3d7ab1"/><circle cx="316.8" cy="852.4" r="1.95" fill="#3d7ab1"/><circle cx="353.4" cy="884.0" r="2" fill="#f00"/><circle cx="389.9" cy="884.0" r="2" fill="#f00"/><g shape-rendering="crispEdges" stroke="#444" stroke-width="1" fill="none"><path d="M194 697.5H200.5V899"/><path d="M194 893.5H399.5V899"/><path d="M197 725.5H200"/><path d="M197 773.5H200"/><path d="M197 822.5H200"/><path d="M197 870.5H200"/><path d="M208.5 894V897"/><path d="M284.5 894V897"/><path d="M360.5 894V897"/></g><text x="193.8" y="728.8" font-size="9.7" fill="#4d4d4d" text-anchor="end">100</text><text x="193.8" y="776.8" font-size="9.7" fill="#4d4d4d" text-anchor="end">10</text><text x="193.8" y="824.8" font-size="9.7" fill="#4d4d4d" text-anchor="end">1</text><text x="193.8" y="872.8" font-size="9.7" fill="#4d4d4d" text-anchor="end">0.1</text><text x="208.2" y="906" font-size="9.7" fill="#4d4d4d" text-anchor="middle">0</text><text x="284.2" y="906" font-size="9.7" fill="#4d4d4d" text-anchor="middle">50</text><text x="360.4" y="906" font-size="9.7" fill="#4d4d4d" text-anchor="middle">100</text><text x="299.5" y="683" font-size="12.6" fill="#000" text-anchor="middle">9</text></g>
<g><rect x="450" y="696.5" width="198" height="196.5" fill="#fbfbfe"/><path d="M450 725.5H648" stroke="#e1e1e4" stroke-width="1"/><path d="M450 773.6H648" stroke="#e1e1e4" stroke-width="1"/><path d="M450 822H648" stroke="#e1e1e4" stroke-width="1"/><path d="M450 870H648" stroke="#e1e1e4" stroke-width="1"/><path d="M457.3 696.5V893" stroke="#e1e1e4" stroke-width="1"/><path d="M533.4 696.5V893" stroke="#e1e1e4" stroke-width="1"/><path d="M609.6 696.5V893" stroke="#e1e1e4" stroke-width="1"/><path d="M456.3 893L457.4 706.5L458.2 706.3L537.3 892.85H638.9" fill="none" stroke="#dc1f2e" stroke-width="1.15" stroke-linejoin="round"/><circle cx="458.0" cy="772.4" r="1.95" fill="#3d7ab1"/><circle cx="459.4" cy="760.7" r="1.95" fill="#3d7ab1"/><circle cx="462.5" cy="756.6" r="1.95" fill="#3d7ab1"/><circle cx="465.6" cy="754.9" r="1.95" fill="#3d7ab1"/><circle cx="468.5" cy="763.1" r="1.95" fill="#3d7ab1"/><circle cx="471.6" cy="761.4" r="1.95" fill="#3d7ab1"/><circle cx="474.7" cy="764.7" r="1.95" fill="#3d7ab1"/><circle cx="492.9" cy="791.0" r="1.95" fill="#3d7ab1"/><circle cx="502.0" cy="800.6" r="1.95" fill="#3d7ab1"/><circle cx="511.1" cy="809.7" r="1.95" fill="#3d7ab1"/><circle cx="520.1" cy="814.7" r="1.95" fill="#3d7ab1"/><circle cx="529.2" cy="824.0" r="1.95" fill="#3d7ab1"/><circle cx="547.6" cy="841.0" r="1.95" fill="#3d7ab1"/><circle cx="565.8" cy="832.1" r="1.95" fill="#3d7ab1"/><circle cx="602.4" cy="848.1" r="1.95" fill="#3d7ab1"/><circle cx="638.9" cy="884.0" r="2" fill="#f00"/><g shape-rendering="crispEdges" stroke="#444" stroke-width="1" fill="none"><path d="M443 697.5H449.5V899"/><path d="M443 893.5H648.5V899"/><path d="M446 725.5H449"/><path d="M446 773.5H449"/><path d="M446 822.5H449"/><path d="M446 870.5H449"/><path d="M457.5 894V897"/><path d="M533.5 894V897"/><path d="M609.5 894V897"/></g><text x="442.8" y="728.8" font-size="9.7" fill="#4d4d4d" text-anchor="end">100</text><text x="442.8" y="776.8" font-size="9.7" fill="#4d4d4d" text-anchor="end">10</text><text x="442.8" y="824.8" font-size="9.7" fill="#4d4d4d" text-anchor="end">1</text><text x="442.8" y="872.8" font-size="9.7" fill="#4d4d4d" text-anchor="end">0.1</text><text x="457.2" y="906" font-size="9.7" fill="#4d4d4d" text-anchor="middle">0</text><text x="533.2" y="906" font-size="9.7" fill="#4d4d4d" text-anchor="middle">50</text><text x="609.4" y="906" font-size="9.7" fill="#4d4d4d" text-anchor="middle">100</text><text x="548.5" y="683" font-size="12.6" fill="#000" text-anchor="middle">10</text></g>
<g><rect x="699" y="696.5" width="198" height="196.5" fill="#fbfbfe"/><path d="M699 725.5H897" stroke="#e1e1e4" stroke-width="1"/><path d="M699 773.6H897" stroke="#e1e1e4" stroke-width="1"/><path d="M699 822H897" stroke="#e1e1e4" stroke-width="1"/><path d="M699 870H897" stroke="#e1e1e4" stroke-width="1"/><path d="M706.3 696.5V893" stroke="#e1e1e4" stroke-width="1"/><path d="M782.4 696.5V893" stroke="#e1e1e4" stroke-width="1"/><path d="M858.6 696.5V893" stroke="#e1e1e4" stroke-width="1"/><path d="M705.3 893L706.4 706.5L707.2 706.3L786.3 892.85H887.9" fill="none" stroke="#dc1f2e" stroke-width="1.15" stroke-linejoin="round"/><circle cx="707.0" cy="773.1" r="1.95" fill="#3d7ab1"/><circle cx="708.4" cy="756.1" r="1.95" fill="#3d7ab1"/><circle cx="711.5" cy="747.3" r="1.95" fill="#3d7ab1"/><circle cx="714.6" cy="748.2" r="1.95" fill="#3d7ab1"/><circle cx="717.5" cy="754.5" r="1.95" fill="#3d7ab1"/><circle cx="720.6" cy="757.3" r="1.95" fill="#3d7ab1"/><circle cx="723.7" cy="760.7" r="1.95" fill="#3d7ab1"/><circle cx="741.9" cy="790.1" r="1.95" fill="#3d7ab1"/><circle cx="751.0" cy="801.3" r="1.95" fill="#3d7ab1"/><circle cx="760.1" cy="810.4" r="1.95" fill="#3d7ab1"/><circle cx="769.1" cy="811.1" r="1.95" fill="#3d7ab1"/><circle cx="778.2" cy="821.1" r="1.95" fill="#3d7ab1"/><circle cx="796.6" cy="884.0" r="2" fill="#f00"/><circle cx="814.8" cy="839.1" r="1.95" fill="#3d7ab1"/><circle cx="851.4" cy="884.0" r="2" fill="#f00"/><circle cx="887.9" cy="852.9" r="1.95" fill="#3d7ab1"/><g shape-rendering="crispEdges" stroke="#444" stroke-width="1" fill="none"><path d="M692 697.5H698.5V899"/><path d="M692 893.5H897.5V899"/><path d="M695 725.5H698"/><path d="M695 773.5H698"/><path d="M695 822.5H698"/><path d="M695 870.5H698"/><path d="M706.5 894V897"/><path d="M782.5 894V897"/><path d="M858.5 894V897"/></g><text x="691.8" y="728.8" font-size="9.7" fill="#4d4d4d" text-anchor="end">100</text><text x="691.8" y="776.8" font-size="9.7" fill="#4d4d4d" text-anchor="end">10</text><text x="691.8" y="824.8" font-size="9.7" fill="#4d4d4d" text-anchor="end">1</text><text x="691.8" y="872.8" font-size="9.7" fill="#4d4d4d" text-anchor="end">0.1</text><text x="706.2" y="906" font-size="9.7" fill="#4d4d4d" text-anchor="middle">0</text><text x="782.2" y="906" font-size="9.7" fill="#4d4d4d" text-anchor="middle">50</text><text x="858.4" y="906" font-size="9.7" fill="#4d4d4d" text-anchor="middle">100</text><text x="797.5" y="683" font-size="12.6" fill="#000" text-anchor="middle">11</text></g>
<g><rect x="948" y="696.5" width="198" height="196.5" fill="#fbfbfe"/><path d="M948 725.5H1146" stroke="#e1e1e4" stroke-width="1"/><path d="M948 773.6H1146" stroke="#e1e1e4" stroke-width="1"/><path d="M948 822H1146" stroke="#e1e1e4" stroke-width="1"/><path d="M948 870H1146" stroke="#e1e1e4" stroke-width="1"/><path d="M955.3 696.5V893" stroke="#e1e1e4" stroke-width="1"/><path d="M1031.4 696.5V893" stroke="#e1e1e4" stroke-width="1"/><path d="M1107.6 696.5V893" stroke="#e1e1e4" stroke-width="1"/><path d="M954.3 893L955.4 706.5L956.2 706.3L1035.3 892.85H1136.9" fill="none" stroke="#dc1f2e" stroke-width="1.15" stroke-linejoin="round"/><circle cx="956.0" cy="766.2" r="1.95" fill="#3d7ab1"/><circle cx="957.4" cy="754.2" r="1.95" fill="#3d7ab1"/><circle cx="960.5" cy="749.9" r="1.95" fill="#3d7ab1"/><circle cx="963.6" cy="752.8" r="1.95" fill="#3d7ab1"/><circle cx="966.5" cy="750.4" r="1.95" fill="#3d7ab1"/><circle cx="969.6" cy="758.5" r="1.95" fill="#3d7ab1"/><circle cx="972.7" cy="765.7" r="1.95" fill="#3d7ab1"/><circle cx="990.9" cy="800.3" r="1.95" fill="#3d7ab1"/><circle cx="1000.0" cy="810.6" r="1.95" fill="#3d7ab1"/><circle cx="1009.1" cy="816.1" r="1.95" fill="#3d7ab1"/><circle cx="1018.1" cy="826.4" r="1.95" fill="#3d7ab1"/><circle cx="1027.2" cy="831.7" r="1.95" fill="#3d7ab1"/><circle cx="1045.6" cy="841.0" r="1.95" fill="#3d7ab1"/><circle cx="1063.8" cy="884.0" r="2" fill="#f00"/><circle cx="1100.4" cy="849.6" r="1.95" fill="#3d7ab1"/><circle cx="1136.9" cy="863.9" r="1.95" fill="#3d7ab1"/><g shape-rendering="crispEdges" stroke="#444" stroke-width="1" fill="none"><path d="M941 697.5H947.5V899"/><path d="M941 893.5H1146.5V899"/><path d="M944 725.5H947"/><path d="M944 773.5H947"/><path d="M944 822.5H947"/><path d="M944 870.5H947"/><path d="M955.5 894V897"/><path d="M1031.5 894V897"/><path d="M1107.5 894V897"/></g><text x="940.8" y="728.8" font-size="9.7" fill="#4d4d4d" text-anchor="end">100</text><text x="940.8" y="776.8" font-size="9.7" fill="#4d4d4d" text-anchor="end">10</text><text x="940.8" y="824.8" font-size="9.7" fill="#4d4d4d" text-anchor="end">1</text><text x="940.8" y="872.8" font-size="9.7" fill="#4d4d4d" text-anchor="end">0.1</text><text x="955.2" y="906" font-size="9.7" fill="#4d4d4d" text-anchor="middle">0</text><text x="1031.2" y="906" font-size="9.7" fill="#4d4d4d" text-anchor="middle">50</text><text x="1107.4" y="906" font-size="9.7" fill="#4d4d4d" text-anchor="middle">100</text><text x="1046.5" y="683" font-size="12.6" fill="#000" text-anchor="middle">12</text></g>
</svg>
<span class="t" style="left:39.81px;top:16px;font-size:17.4px;color:#000;transform:scaleX(1.0388)">parent_metabolite_project.mlxtran [demo] * - Monolix estimation - 2021R1</span>
<span class="t" style="left:20.56px;top:59px;font-size:15px;color:#d6d6d6;transform:scaleX(0.9913)">Project</span>
<span class="t" style="left:106.56px;top:59px;font-size:15px;color:#d6d6d6;transform:scaleX(0.9925)">Settings</span>
<span class="t" style="left:199.74px;top:59px;font-size:15px;color:#d6d6d6;transform:scaleX(1.0143)">Export</span>
<span class="t" style="left:282.68px;top:59px;font-size:15px;color:#d6d6d6;transform:scaleX(1.0690)">Help</span>
<span class="t" style="left:63.19px;top:105px;font-size:14.6px;color:#fff;transform:scaleX(0.9633)">Data</span>
<span class="t" style="left:123.82px;top:105px;font-size:14.6px;color:#fff;transform:scaleX(1.0308)">Structural model</span>
<span class="t" style="left:262.93px;top:105px;font-size:14.6px;color:#fff;transform:scaleX(1.0232)">Initial estimates</span>
<span class="t" style="left:396.65px;top:106px;font-size:13.8px;color:#fff;font-weight:bold;transform:scaleX(1.0145)">Statistical model &amp; Tasks</span>
<span class="t" style="left:594.82px;top:105px;font-size:14.6px;color:#fff;transform:scaleX(1.0290)">Plots</span>
<span class="t" style="left:17.22px;top:146px;font-size:14.6px;color:#fff;transform:scaleX(1.0283)">Initial estimates</span>
<span class="t" style="left:17.23px;top:186px;font-size:14.6px;color:#fff;transform:scaleX(1.0221)">Check initial</span>
<span class="t" style="left:17.22px;top:209px;font-size:14.4px;color:#fff;transform:scaleX(1.0300)">estimates</span>
<span class="t" style="left:277.93px;top:145px;font-size:11.4px;color:#7fc0dc;font-weight:bold;transform:scaleX(1.0167)">PREV</span>
<span class="t" style="left:324.83px;top:145px;font-size:11.4px;color:#fff;font-weight:bold;transform:scaleX(1.0207)">NEXT</span>
<span class="t" style="left:371.03px;top:145px;font-size:11.4px;color:#fff;font-weight:bold;transform:scaleX(1.1200)">1</span>
<span class="t" style="left:395.15px;top:145px;font-size:11.4px;color:#fff;font-weight:bold;transform:scaleX(1.0833)">2</span>
<span class="t" style="left:418.05px;top:145px;font-size:11.4px;color:#fff;font-weight:bold;transform:scaleX(1.1167)">3</span>
<span class="t" style="left:440.33px;top:145px;font-size:11.4px;color:#fff;font-weight:bold;transform:scaleX(1.1200)">...</span>
<span class="t" style="left:470.15px;top:145px;font-size:11.4px;color:#fff;font-weight:bold;transform:scaleX(1.1167)">6</span>
<span class="t" style="left:493.55px;top:145px;font-size:11.4px;color:#fff;font-weight:bold;transform:scaleX(0.9667)">7</span>
<span class="t" style="left:960.35px;top:145px;font-size:11.3px;color:#fff;font-weight:bold;transform:scaleX(0.9992)">SET AS INITIAL VALUES</span>
<span class="t" style="left:1204.61px;top:138px;font-size:17.4px;color:#1f1f1f;transform:scaleX(1.0392)">Output</span>
<span class="t" style="left:1240.25px;top:184px;font-size:13.5px;color:#1f1f1f;transform:scaleX(1.0051)">y1_Cp</span>
<span class="t" style="left:1240.25px;top:210px;font-size:13.5px;color:#1f1f1f;transform:scaleX(1.0286)">y2_Cm</span>
<span class="t" style="left:1205.25px;top:279px;font-size:17.2px;color:#1f1f1f;transform:scaleX(1.0349)">Auto-init</span>
<span class="t" style="left:1305.22px;top:332px;font-size:11.8px;color:#188cba;font-weight:bold;transform:scaleX(1.0333)">RUN</span>
<span class="t" style="left:1258.51px;top:377px;font-size:16.5px;color:#a0a0a0;transform:scaleX(1.0356)">Ids selection</span>
<span class="t" style="left:1214.87px;top:436px;font-size:11.4px;color:#333;transform:scaleX(0.8800)">1</span>
<span class="t" style="left:1233.70px;top:436px;font-size:11.4px;color:#333;transform:scaleX(1.0545)">12</span>
<span class="t" style="left:1248.65px;top:482px;font-size:13.6px;color:#1f1f1f;transform:scaleX(0.9974)">Range</span>
<span class="t" style="left:1204.27px;top:532px;font-size:16.2px;color:#1f1f1f;transform:scaleX(0.9795)">X-axis</span>
<span class="t" style="left:1256.45px;top:579px;font-size:13.8px;color:#1f1f1f;transform:scaleX(1.0034)">Log scale</span>
<span class="t" style="left:1256.43px;top:622px;font-size:14.4px;color:#1f1f1f;transform:scaleX(1.0151)">Same limits</span>
<span class="t" style="left:1204.81px;top:666px;font-size:14.6px;color:#a8a8a8;transform:scaleX(1.0378)">Limits</span>
<span class="t" style="left:1205.25px;top:696px;font-size:13px;color:#cfcfcf;transform:scaleX(1.0000)">0</span>
<span class="t" style="left:1306.25px;top:696px;font-size:13px;color:#cfcfcf;transform:scaleX(1.0000)">0</span>
<span class="t" style="left:1204.26px;top:786px;font-size:16.2px;color:#1f1f1f;transform:scaleX(0.9929)">Y-axis</span>
<span class="t" style="left:1256.45px;top:832px;font-size:13.8px;color:#1f1f1f;transform:scaleX(1.0034)">Log scale</span>
<span class="t" style="left:1256.43px;top:875px;font-size:14.4px;color:#1f1f1f;transform:scaleX(1.0151)">Same limits</span>
<span class="t" style="left:1204.81px;top:919px;font-size:14.6px;color:#1f1f1f;transform:scaleX(1.0378)">Limits</span>
<span class="t" style="left:1205.25px;top:950px;font-size:13px;color:#a0a0a0;transform:scaleX(1.0360)">0.05</span>
<span class="t" style="left:1305.23px;top:950px;font-size:13.6px;color:#a0a0a0;transform:scaleX(1.0221)">249.5110571</span>
<span class="t" style="left:177.33px;top:955px;font-size:14.6px;color:#1f1f1f;transform:scaleX(1.0239)">ka_pop</span>
<span class="t" style="left:177.40px;top:986px;font-size:13px;color:#a0a0a0;transform:scaleX(0.9500)">1</span>
<span class="t" style="left:321.40px;top:955px;font-size:14.6px;color:#1f1f1f;transform:scaleX(0.9548)">V_pop</span>
<span class="t" style="left:320.45px;top:986px;font-size:13px;color:#a0a0a0;transform:scaleX(0.9500)">1</span>
<span class="t" style="left:463.39px;top:955px;font-size:14.6px;color:#1f1f1f;transform:scaleX(1.0553)">k_pop</span>
<span class="t" style="left:464.45px;top:986px;font-size:13px;color:#a0a0a0;transform:scaleX(1.0167)">0.5</span>
<span class="t" style="left:606.50px;top:955px;font-size:14.6px;color:#1f1f1f;transform:scaleX(1.0018)">k12_pop</span>
<span class="t" style="left:606.42px;top:986px;font-size:13px;color:#a0a0a0;transform:scaleX(1.0833)">2</span>
<span class="t" style="left:749.55px;top:955px;font-size:14.6px;color:#1f1f1f;transform:scaleX(0.9982)">k21_pop</span>
<span class="t" style="left:749.60px;top:986px;font-size:13px;color:#a0a0a0;transform:scaleX(0.9500)">1</span>
<span class="t" style="left:892.54px;top:955px;font-size:14.6px;color:#1f1f1f;transform:scaleX(1.0560)">km_pop</span>
<span class="t" style="left:893.60px;top:986px;font-size:13px;color:#a0a0a0;transform:scaleX(1.0167)">0.5</span>
<span class="t" style="left:1035.63px;top:955px;font-size:14.6px;color:#1f1f1f;transform:scaleX(1.0213)">Kpm_pop</span>
<span class="t" style="left:1036.65px;top:986px;font-size:13px;color:#a0a0a0;transform:scaleX(1.0360)">0.09</span>
<div class="a" style="left:1436px;top:0;width:1px;height:1034px;background:#686868"></div>
</body></html>
